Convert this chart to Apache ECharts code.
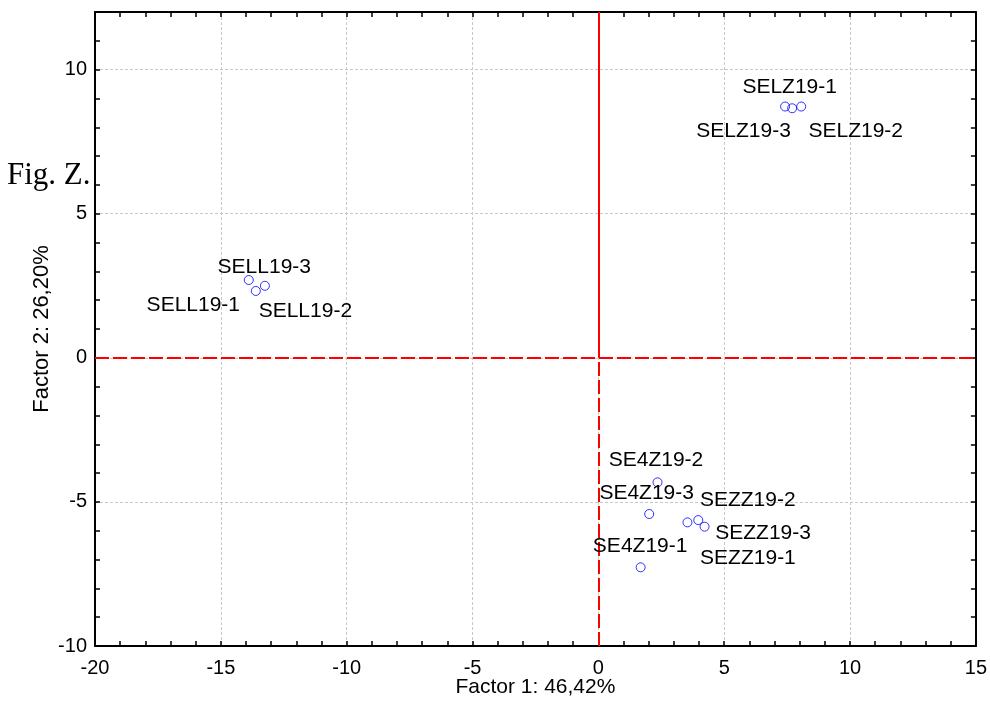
<!DOCTYPE html>
<html>
<head>
<meta charset="utf-8">
<script src="https://cdn.jsdelivr.net/npm/echarts@6/dist/echarts.min.js"></script>
<style>
html,body{margin:0;padding:0;background:#fff;}
#chart{width:990px;height:724px;}
</style>
</head>
<body>
<div id="chart"></div>
<script>
// ---- data ----
var sampleNames = ['SELZ19-1','SELZ19-2','SELZ19-3','SELL19-1','SELL19-2','SELL19-3',
                   'SE4Z19-1','SE4Z19-2','SE4Z19-3','SEZZ19-1','SEZZ19-2','SEZZ19-3'];
var factor1 = [7.70, 8.06, 7.42, -13.61, -13.25, -13.89, 1.68, 2.35, 2.02, 3.54, 3.97, 4.22];
var factor2 = [8.66, 8.72, 8.72, 2.32, 2.50, 2.70, -7.27, -4.32, -5.42, -5.71, -5.63, -5.86];
var xTicks = [-20, -15, -10, -5, 0, 5, 10, 15];
var yTicks = [-10, -5, 0, 5, 10];
var xName = 'Factor 1: 46,42%';
var yName = 'Factor 2: 26,20%';
var figLabel = 'Fig. Z.';

// ---- label placement (styling, px offsets) ----
var labelOffsets = {
  'SELZ19-1':[-2,-21], 'SELZ19-2':[55,25], 'SELZ19-3':[-41,25],
  'SELL19-1':[-62,15], 'SELL19-2':[41,26], 'SELL19-3':[16,-12],
  'SE4Z19-1':[0,-21], 'SE4Z19-2':[-1,-22], 'SE4Z19-3':[-2,-20],
  'SEZZ19-1':[61,36], 'SEZZ19-2':[50,-19], 'SEZZ19-3':[59,7]
};

var FONT = 'Liberation Sans, Arial, sans-serif';
var xMin = xTicks[0], xMax = xTicks[xTicks.length-1];
var yMin = yTicks[0], yMax = 12;

var points = sampleNames.map(function(n,i){
  return {name:n, value:[factor1[i], factor2[i]]};
});

function fmtX(v){ return xTicks.indexOf(v) >= 0 ? String(v) : ''; }
function fmtY(v){ return yTicks.indexOf(v) >= 0 ? String(v) : ''; }

var frameLine = {show:true, onZero:false, lineStyle:{color:'#000', width:2}};
var tickIn = {show:true, inside:true, length:5, lineStyle:{color:'#000', width:1.5}};
var grid = {left:95, right:13, top:12, bottom:78};

var chart = echarts.init(document.getElementById('chart'), null, {renderer:'canvas'});
chart.setOption({
  animation:false,
  backgroundColor:'#fff',
  grid: grid,
  xAxis:[
    {type:'value', position:'bottom', min:xMin, max:xMax, interval:1,
     axisLine:frameLine, axisTick:tickIn,
     axisLabel:{formatter:fmtX, color:'#000', fontSize:20, fontFamily:FONT, margin:12},
     splitLine:{show:false},
     name:xName, nameLocation:'middle', nameGap:31, nameMoveOverlap:false,
     nameTextStyle:{color:'#000', fontSize:21, fontFamily:FONT}},
    {type:'value', position:'top', min:xMin, max:xMax, interval:1,
     axisLine:frameLine, axisTick:tickIn, axisLabel:{show:false}, splitLine:{show:false}},
    {type:'value', position:'bottom', min:xMin, max:xMax, interval:5,
     axisLine:{show:false}, axisTick:{show:false}, axisLabel:{show:false},
     splitLine:{show:true, lineStyle:{color:'#c8c8c8', width:1, type:[3,2]}}}
  ],
  yAxis:[
    {type:'value', position:'left', min:yMin, max:yMax, interval:1,
     axisLine:frameLine, axisTick:tickIn,
     axisLabel:{formatter:fmtY, color:'#000', fontSize:20, fontFamily:FONT, margin:8},
     splitLine:{show:false},
     name:yName, nameLocation:'middle', nameGap:42, nameRotate:90, nameMoveOverlap:false,
     nameTextStyle:{color:'#000', fontSize:22, fontFamily:FONT}},
    {type:'value', position:'right', min:yMin, max:yMax, interval:1,
     axisLine:frameLine, axisTick:tickIn, axisLabel:{show:false}, splitLine:{show:false}},
    {type:'value', position:'left', min:yMin, max:yMax, interval:5,
     axisLine:{show:false}, axisTick:{show:false}, axisLabel:{show:false},
     splitLine:{show:true, lineStyle:{color:'#c8c8c8', width:1, type:[3,2]}}}
  ],
  graphic:[
    {type:'text', left:7, top:160, z:100,
     style:{text:figLabel, fontSize:31, fontFamily:'Liberation Serif, Times New Roman, serif', fill:'#000'}}
  ],
  series:[
    {type:'scatter', xAxisIndex:0, yAxisIndex:0, z:5,
     symbol:'circle', symbolSize:9,
     itemStyle:{color:'rgba(255,255,255,0)', borderColor:'#0000ff', borderWidth:1},
     label:{show:true, position:[4.5,4.5], align:'center', verticalAlign:'middle',
            formatter:'{b}', color:'#000', opacity:1,
            textBorderWidth:0, fontSize:21, fontFamily:FONT},
     labelLayout:function(params){
       var off = labelOffsets[sampleNames[params.dataIndex]] || [0,0];
       return {dx:off[0], dy:off[1], hideOverlap:false};
     },
     emphasis:{disabled:true},
     data:points,
     markLine:{
       silent:true, symbol:['none','none'], animation:false, z:3,
       label:{show:false},
       data:[
         [{coord:[0,0], lineStyle:{type:'solid', color:'#ff0000', width:2}}, {coord:[0,yMax]}],
         [{coord:[0,yMin], lineStyle:{type:[14,4], color:'#ff0000', width:2}}, {coord:[0,0]}],
         [{coord:[xMin,0], lineStyle:{type:[14,4], color:'#ff0000', width:2}}, {coord:[xMax,0]}]
       ]
     }
    }
  ]
});
</script>
</body>
</html>
